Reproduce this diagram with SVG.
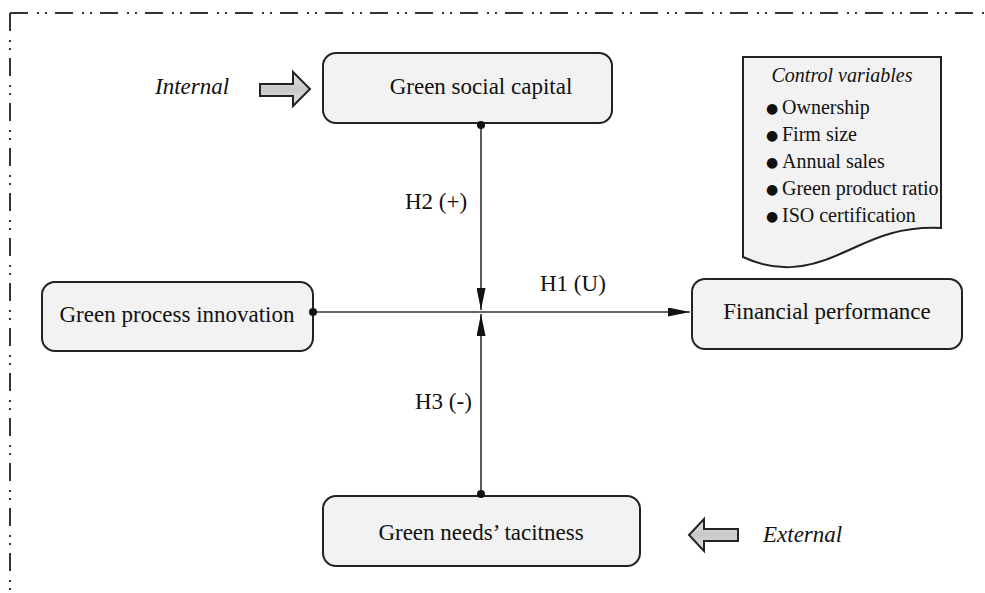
<svg xmlns="http://www.w3.org/2000/svg" width="985" height="593" viewBox="0 0 985 593">
<style>
.node{fill:#f2f2f2;stroke:#222;stroke-width:2}
.t{font-family:"Liberation Serif","Times New Roman",serif;font-size:23px;fill:#111}
.it{font-style:italic}
.sm{font-size:20px}
.bul{font-family:"DejaVu Sans",sans-serif;font-size:14px}
.con{stroke:#333;stroke-width:1.6;fill:none}
.frame{stroke:#333;stroke-width:2;fill:none;stroke-dasharray:18 9 2 6 2 8}
.big{fill:url(#ag);stroke:#222;stroke-width:2;stroke-linejoin:miter}
</style>
<defs>
<marker id="ah" markerUnits="userSpaceOnUse" markerWidth="22" markerHeight="9" refX="22" refY="4.5" orient="auto" viewBox="0 0 22 9">
<path d="M0,0 L22,4.5 L0,9 z" fill="#111"/>
</marker>
<linearGradient id="ag" x1="0" y1="0" x2="0" y2="1">
<stop offset="0" stop-color="#e4e4e4"/>
<stop offset="0.5" stop-color="#c8c8c8"/>
<stop offset="1" stop-color="#e4e4e4"/>
</linearGradient>
<clipPath id="docclip">
<rect x="743" y="57" width="196" height="215"/>
</clipPath>
</defs>
<rect width="985" height="593" fill="#fff"/>
<g id="frame">
<line class="frame" x1="10" y1="13" x2="985" y2="13"/>
<line class="frame" x1="10" y1="13" x2="10" y2="593"/>
</g>
<g id="social">
<rect class="node" x="323" y="53" width="289" height="70" rx="13"/>
<text class="t" x="481" y="94" text-anchor="middle">Green social capital</text>
</g>
<g id="process">
<rect class="node" x="42" y="282" width="271" height="69" rx="13"/>
<text class="t" x="177" y="322" text-anchor="middle">Green process innovation</text>
</g>
<g id="financial">
<rect class="node" x="692" y="279" width="270" height="70" rx="13"/>
<text class="t" x="827" y="319" text-anchor="middle">Financial performance</text>
</g>
<g id="tacitness">
<rect class="node" x="323" y="496" width="317" height="70" rx="13"/>
<text class="t" x="481" y="540" text-anchor="middle">Green needs’ tacitness</text>
</g>
<g id="internal">
<text class="t it" x="155" y="94">Internal</text>
<polygon class="big" points="260,84 293,84 293,72 310,89 293,106 293,96 260,96"/>
</g>
<g id="external">
<polygon class="big" points="738,529 704,529 704,519 689,535 704,551 704,541 738,541"/>
<text class="t it" x="763" y="542">External</text>
</g>
<g id="controls">
<path class="node" d="M743,57 H941 V228 C890,226 865,244 840,254 C805,270 775,272 743,257 Z"/>
<text class="t it sm" x="842" y="82" text-anchor="middle">Control variables</text>
<g clip-path="url(#docclip)">
<text class="t sm" x="766" y="114"><tspan class="bul" dy="-1">●</tspan><tspan x="782" dy="1">Ownership</tspan></text>
<text class="t sm" x="766" y="141"><tspan class="bul" dy="-1">●</tspan><tspan x="782" dy="1">Firm size</tspan></text>
<text class="t sm" x="766" y="168"><tspan class="bul" dy="-1">●</tspan><tspan x="782" dy="1">Annual sales</tspan></text>
<text class="t sm" x="766" y="195"><tspan class="bul" dy="-1">●</tspan><tspan x="782" dy="1">Green product ratio</tspan></text>
<text class="t sm" x="766" y="222"><tspan class="bul" dy="-1">●</tspan><tspan x="782" dy="1">ISO certification</tspan></text>
</g>
</g>
<g id="connectors">
<line class="con" x1="313" y1="312" x2="690" y2="312" marker-end="url(#ah)"/>
<line class="con" x1="481" y1="126" x2="481" y2="310" marker-end="url(#ah)"/>
<line class="con" x1="481" y1="493" x2="481" y2="314" marker-end="url(#ah)"/>
<circle cx="313" cy="312" r="4" fill="#111"/>
<circle cx="481" cy="125" r="4" fill="#111"/>
<circle cx="481" cy="494" r="4" fill="#111"/>
<text class="t" x="540" y="291">H1 (U)</text>
<text class="t" x="405" y="209">H2 (+)</text>
<text class="t" x="415" y="409">H3 (-)</text>
</g>
</svg>
